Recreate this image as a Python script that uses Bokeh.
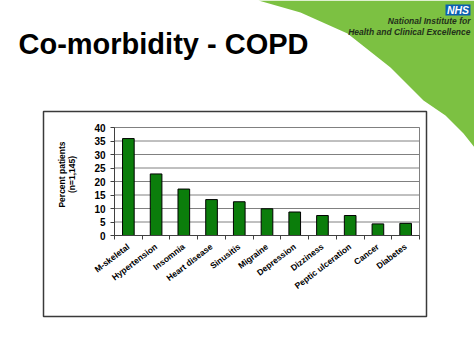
import numpy as np
from bokeh.plotting import figure
from bokeh.models import FixedTicker, Label, LinearAxis, Range1d
from bokeh.embed import file_html
from bokeh.resources import INLINE

categories = ["M-skeletal", "Hypertension", "Insomnia", "Heart disease", "Sinusitis",
              "Migraine", "Depression", "Dizziness", "Peptic ulceration", "Cancer", "Diabetes"]
percent_patients = [35.9, 22.8, 17.2, 13.3, 12.5, 9.9, 8.7, 7.4, 7.4, 4.3, 4.5]
y_ticks = [0, 5, 10, 15, 20, 25, 30, 35, 40]
y_label_lines = ["Percent patients", "(n=1,145)"]
title_text = "Co-morbidity - COPD"
org_lines = ["National Institute for", "Health and Clinical Excellence"]
logo_text = "NHS"

W, H = 474, 355
FONT = "Liberation Sans"

# pixel box of the chart's plot area on the page
PX_L, PX_R, PX_T, PX_B = 114, 419, 127, 235

n = len(categories)
xs = np.arange(n)
x_lo, x_hi = -0.5, n - 0.5
y_lo, y_hi = 0, 40

# ranges of the chart, so that its plot area lands on the pixel box above
ux = (x_hi - x_lo) / (PX_R - PX_L)
uy = (y_hi - y_lo) / (PX_B - PX_T)
cx_range = Range1d(x_lo - PX_L * ux, x_hi + (W - PX_R) * ux)
cy_range = Range1d(y_lo - (H - PX_B) * uy, y_hi + PX_T * uy)

p = figure(width=W, height=H, output_backend="svg", toolbar_location=None,
           x_range=Range1d(0, W), y_range=Range1d(H, 0),
           x_axis_type=None, y_axis_type=None, title=None,
           min_border=0, min_border_left=0, min_border_right=0, min_border_top=0, min_border_bottom=0)
p.extra_x_ranges = {"cx": cx_range}
p.extra_y_ranges = {"cy": cy_range}
p.background_fill_color = "white"
p.border_fill_color = "white"
p.outline_line_color = None
p.xgrid.visible = False
p.ygrid.visible = False

# ---- page decoration (pixel coordinates) ----
sw_x = [258, 300, 347, 390, 423, 445, 463, 474, 474]
sw_y = [0, 12, 33, 67, 100, 115, 133, 147, 0]
p.patch(sw_x, sw_y, fill_color="#7cc142", line_color=None)

p.quad(left=[43], right=[426], top=[111], bottom=[316], fill_color=None,
       line_color="#3a3a3a", line_width=1.5)

p.add_layout(Label(x=18, y=43, text=title_text, text_font=FONT, text_font_style="bold",
                   text_font_size="29px", text_color="black", text_baseline="middle"))

p.quad(left=[445], right=[470], top=[4], bottom=[15], fill_color="#0a5eb0", line_color=None)
p.add_layout(Label(x=457.5, y=9.5, text=logo_text, text_font=FONT, text_font_style="bold italic",
                   text_font_size="10.5px", text_color="white", text_align="center",
                   text_baseline="middle"))
for txt, yy in zip(org_lines, [20, 31]):
    p.add_layout(Label(x=470, y=yy, text=txt, text_font=FONT, text_font_style="bold italic",
                       text_font_size="8.5px", text_color="#23301a", text_align="right",
                       text_baseline="middle"))

# ---- chart ----
R = dict(x_range_name="cx", y_range_name="cy")
p.quad(left=[x_lo], right=[x_hi], bottom=[y_lo], top=[y_hi], fill_color="white",
       line_color="#808080", line_width=1, **R)
p.segment(x0=[x_lo] * len(y_ticks), x1=[x_hi] * len(y_ticks), y0=y_ticks, y1=y_ticks,
          line_color="#808080", line_width=1, **R)
p.vbar(x=xs, top=percent_patients, width=0.42, bottom=0, fill_color="#0b7d0b",
       line_color="black", line_width=1, **R)

yax = LinearAxis(fixed_location=x_lo, bounds=(y_lo, y_hi), ticker=FixedTicker(ticks=y_ticks), **R)
yax.major_label_text_font = FONT
yax.major_label_text_font_style = "bold"
yax.major_label_text_font_size = "10px"
yax.major_label_text_color = "black"
yax.major_tick_out = 4
yax.major_tick_in = 0
yax.minor_tick_line_color = None
yax.axis_line_color = "#404040"
yax.major_tick_line_color = "#404040"
p.add_layout(yax, "left")

xax = LinearAxis(fixed_location=y_lo, bounds=(x_lo, x_hi),
                 ticker=FixedTicker(ticks=list(xs), minor_ticks=list(xs - 0.5) + [x_hi]), **R)
xax.major_label_overrides = {int(i): c for i, c in zip(xs, categories)}
xax.major_label_orientation = 0.65
xax.major_label_text_font = FONT
xax.major_label_text_font_style = "bold"
xax.major_label_text_font_size = "8.5px"
xax.major_label_text_color = "black"
xax.major_tick_line_color = None
xax.minor_tick_out = 4
xax.minor_tick_in = 0
xax.minor_tick_line_color = "#404040"
xax.axis_line_color = "#404040"
xax.major_label_standoff = 4
p.add_layout(xax, "below")

# y axis title (two lines, rotated)
for txt, xx in zip(y_label_lines, [61, 71]):
    p.add_layout(Label(x=xx, y=174, text=txt, angle=np.pi / 2, text_font=FONT,
                       text_font_style="bold", text_font_size="8.5px", text_color="black",
                       text_align="center", text_baseline="middle"))

open("out.html", "w").write(file_html(p, INLINE))
